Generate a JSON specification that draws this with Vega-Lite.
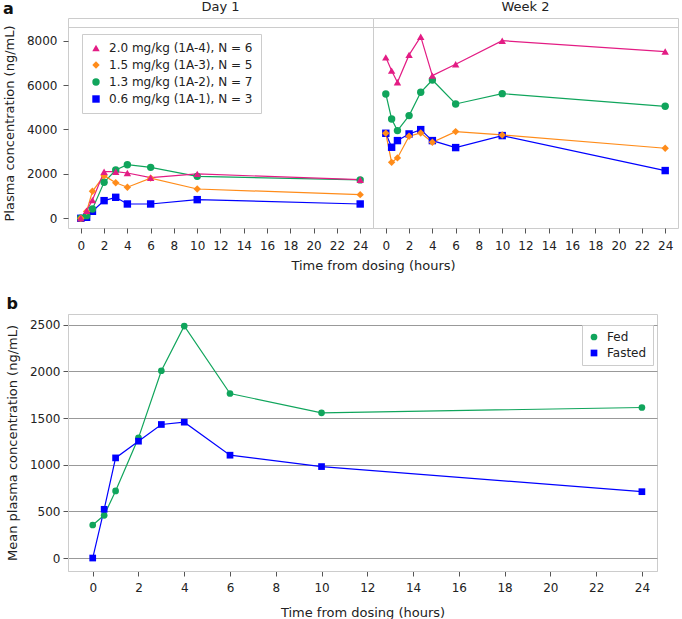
{
  "$schema": "https://vega.github.io/schema/vega-lite/v6.json",
  "padding": {"left": 2, "top": 0, "right": 0, "bottom": 0},
  "background": "white",
  "config": {
    "font": "DejaVu Sans",
    "view": {"stroke": "#cccccc"},
    "axis": {"labelFontSize": 12, "titleFontSize": 13, "titleFontWeight": "normal", "labelColor": "#222222", "titleColor": "#222222", "tickColor": "#555555", "domainColor": "#cccccc", "grid": false, "labelOverlap": false},
    "legend": {"padding": 8, "strokeColor": "#cccccc", "fillColor": "white", "labelFontSize": 12, "labelColor": "#222222", "rowPadding": 5, "labelOffset": 7, "symbolStrokeWidth": 0, "symbolSize": 55}
  },
  "datasets": {
    "a": [
      {"period": "Day 1", "dose": "0.6 mg/kg (1A-1), N = 3", "time": 0, "conc": 0},
      {"period": "Day 1", "dose": "0.6 mg/kg (1A-1), N = 3", "time": 0.5, "conc": 45},
      {"period": "Day 1", "dose": "0.6 mg/kg (1A-1), N = 3", "time": 1, "conc": 315},
      {"period": "Day 1", "dose": "0.6 mg/kg (1A-1), N = 3", "time": 2, "conc": 795},
      {"period": "Day 1", "dose": "0.6 mg/kg (1A-1), N = 3", "time": 3, "conc": 945},
      {"period": "Day 1", "dose": "0.6 mg/kg (1A-1), N = 3", "time": 4, "conc": 645},
      {"period": "Day 1", "dose": "0.6 mg/kg (1A-1), N = 3", "time": 6, "conc": 645},
      {"period": "Day 1", "dose": "0.6 mg/kg (1A-1), N = 3", "time": 10, "conc": 840},
      {"period": "Day 1", "dose": "0.6 mg/kg (1A-1), N = 3", "time": 24, "conc": 645},
      {"period": "Day 1", "dose": "1.3 mg/kg (1A-2), N = 7", "time": 0, "conc": 0},
      {"period": "Day 1", "dose": "1.3 mg/kg (1A-2), N = 7", "time": 0.5, "conc": 120},
      {"period": "Day 1", "dose": "1.3 mg/kg (1A-2), N = 7", "time": 1, "conc": 420},
      {"period": "Day 1", "dose": "1.3 mg/kg (1A-2), N = 7", "time": 2, "conc": 1620},
      {"period": "Day 1", "dose": "1.3 mg/kg (1A-2), N = 7", "time": 3, "conc": 2175},
      {"period": "Day 1", "dose": "1.3 mg/kg (1A-2), N = 7", "time": 4, "conc": 2415},
      {"period": "Day 1", "dose": "1.3 mg/kg (1A-2), N = 7", "time": 6, "conc": 2295},
      {"period": "Day 1", "dose": "1.3 mg/kg (1A-2), N = 7", "time": 10, "conc": 1890},
      {"period": "Day 1", "dose": "1.3 mg/kg (1A-2), N = 7", "time": 24, "conc": 1730},
      {"period": "Day 1", "dose": "1.5 mg/kg (1A-3), N = 5", "time": 0, "conc": 0},
      {"period": "Day 1", "dose": "1.5 mg/kg (1A-3), N = 5", "time": 0.5, "conc": 310},
      {"period": "Day 1", "dose": "1.5 mg/kg (1A-3), N = 5", "time": 1, "conc": 1215},
      {"period": "Day 1", "dose": "1.5 mg/kg (1A-3), N = 5", "time": 2, "conc": 1920},
      {"period": "Day 1", "dose": "1.5 mg/kg (1A-3), N = 5", "time": 3, "conc": 1600},
      {"period": "Day 1", "dose": "1.5 mg/kg (1A-3), N = 5", "time": 4, "conc": 1400},
      {"period": "Day 1", "dose": "1.5 mg/kg (1A-3), N = 5", "time": 6, "conc": 1810},
      {"period": "Day 1", "dose": "1.5 mg/kg (1A-3), N = 5", "time": 10, "conc": 1320},
      {"period": "Day 1", "dose": "1.5 mg/kg (1A-3), N = 5", "time": 24, "conc": 1065},
      {"period": "Day 1", "dose": "2.0 mg/kg (1A-4), N = 6", "time": 0, "conc": 0},
      {"period": "Day 1", "dose": "2.0 mg/kg (1A-4), N = 6", "time": 0.5, "conc": 340},
      {"period": "Day 1", "dose": "2.0 mg/kg (1A-4), N = 6", "time": 1, "conc": 820},
      {"period": "Day 1", "dose": "2.0 mg/kg (1A-4), N = 6", "time": 2, "conc": 2100},
      {"period": "Day 1", "dose": "2.0 mg/kg (1A-4), N = 6", "time": 3, "conc": 2100},
      {"period": "Day 1", "dose": "2.0 mg/kg (1A-4), N = 6", "time": 4, "conc": 2040},
      {"period": "Day 1", "dose": "2.0 mg/kg (1A-4), N = 6", "time": 6, "conc": 1830},
      {"period": "Day 1", "dose": "2.0 mg/kg (1A-4), N = 6", "time": 10, "conc": 2000},
      {"period": "Day 1", "dose": "2.0 mg/kg (1A-4), N = 6", "time": 24, "conc": 1740},
      {"period": "Week 2", "dose": "0.6 mg/kg (1A-1), N = 3", "time": 0, "conc": 3830},
      {"period": "Week 2", "dose": "0.6 mg/kg (1A-1), N = 3", "time": 0.5, "conc": 3200},
      {"period": "Week 2", "dose": "0.6 mg/kg (1A-1), N = 3", "time": 1, "conc": 3500},
      {"period": "Week 2", "dose": "0.6 mg/kg (1A-1), N = 3", "time": 2, "conc": 3800},
      {"period": "Week 2", "dose": "0.6 mg/kg (1A-1), N = 3", "time": 3, "conc": 3995},
      {"period": "Week 2", "dose": "0.6 mg/kg (1A-1), N = 3", "time": 4, "conc": 3500},
      {"period": "Week 2", "dose": "0.6 mg/kg (1A-1), N = 3", "time": 6, "conc": 3185},
      {"period": "Week 2", "dose": "0.6 mg/kg (1A-1), N = 3", "time": 10, "conc": 3725},
      {"period": "Week 2", "dose": "0.6 mg/kg (1A-1), N = 3", "time": 24, "conc": 2150},
      {"period": "Week 2", "dose": "1.3 mg/kg (1A-2), N = 7", "time": 0, "conc": 5600},
      {"period": "Week 2", "dose": "1.3 mg/kg (1A-2), N = 7", "time": 0.5, "conc": 4475},
      {"period": "Week 2", "dose": "1.3 mg/kg (1A-2), N = 7", "time": 1, "conc": 3950},
      {"period": "Week 2", "dose": "1.3 mg/kg (1A-2), N = 7", "time": 2, "conc": 4625},
      {"period": "Week 2", "dose": "1.3 mg/kg (1A-2), N = 7", "time": 3, "conc": 5675},
      {"period": "Week 2", "dose": "1.3 mg/kg (1A-2), N = 7", "time": 4, "conc": 6230},
      {"period": "Week 2", "dose": "1.3 mg/kg (1A-2), N = 7", "time": 6, "conc": 5150},
      {"period": "Week 2", "dose": "1.3 mg/kg (1A-2), N = 7", "time": 10, "conc": 5615},
      {"period": "Week 2", "dose": "1.3 mg/kg (1A-2), N = 7", "time": 24, "conc": 5045},
      {"period": "Week 2", "dose": "1.5 mg/kg (1A-3), N = 5", "time": 0, "conc": 3830},
      {"period": "Week 2", "dose": "1.5 mg/kg (1A-3), N = 5", "time": 0.5, "conc": 2520},
      {"period": "Week 2", "dose": "1.5 mg/kg (1A-3), N = 5", "time": 1, "conc": 2720},
      {"period": "Week 2", "dose": "1.5 mg/kg (1A-3), N = 5", "time": 2, "conc": 3695},
      {"period": "Week 2", "dose": "1.5 mg/kg (1A-3), N = 5", "time": 3, "conc": 3845},
      {"period": "Week 2", "dose": "1.5 mg/kg (1A-3), N = 5", "time": 4, "conc": 3425},
      {"period": "Week 2", "dose": "1.5 mg/kg (1A-3), N = 5", "time": 6, "conc": 3905},
      {"period": "Week 2", "dose": "1.5 mg/kg (1A-3), N = 5", "time": 10, "conc": 3755},
      {"period": "Week 2", "dose": "1.5 mg/kg (1A-3), N = 5", "time": 24, "conc": 3155},
      {"period": "Week 2", "dose": "2.0 mg/kg (1A-4), N = 6", "time": 0, "conc": 7250},
      {"period": "Week 2", "dose": "2.0 mg/kg (1A-4), N = 6", "time": 0.5, "conc": 6650},
      {"period": "Week 2", "dose": "2.0 mg/kg (1A-4), N = 6", "time": 1, "conc": 6125},
      {"period": "Week 2", "dose": "2.0 mg/kg (1A-4), N = 6", "time": 2, "conc": 7360},
      {"period": "Week 2", "dose": "2.0 mg/kg (1A-4), N = 6", "time": 3, "conc": 8180},
      {"period": "Week 2", "dose": "2.0 mg/kg (1A-4), N = 6", "time": 4, "conc": 6425},
      {"period": "Week 2", "dose": "2.0 mg/kg (1A-4), N = 6", "time": 6, "conc": 6935},
      {"period": "Week 2", "dose": "2.0 mg/kg (1A-4), N = 6", "time": 10, "conc": 8000},
      {"period": "Week 2", "dose": "2.0 mg/kg (1A-4), N = 6", "time": 24, "conc": 7510}
    ],
    "b": [
      {"group": "Fed", "time": 0, "conc": 354},
      {"group": "Fed", "time": 0.5, "conc": 458},
      {"group": "Fed", "time": 1, "conc": 719},
      {"group": "Fed", "time": 2, "conc": 1288},
      {"group": "Fed", "time": 3, "conc": 2007},
      {"group": "Fed", "time": 4, "conc": 2486},
      {"group": "Fed", "time": 6, "conc": 1763},
      {"group": "Fed", "time": 10, "conc": 1556},
      {"group": "Fed", "time": 24, "conc": 1613},
      {"group": "Fasted", "time": 0, "conc": 0},
      {"group": "Fasted", "time": 0.5, "conc": 522},
      {"group": "Fasted", "time": 1, "conc": 1073},
      {"group": "Fasted", "time": 2, "conc": 1252},
      {"group": "Fasted", "time": 3, "conc": 1431},
      {"group": "Fasted", "time": 4, "conc": 1456},
      {"group": "Fasted", "time": 6, "conc": 1102},
      {"group": "Fasted", "time": 10, "conc": 980},
      {"group": "Fasted", "time": 24, "conc": 711}
    ]
  },
  "title": {"text": "a", "anchor": "start", "fontSize": 16, "fontWeight": "bold", "color": "#111111", "offset": -16},
  "spacing": 22,
  "resolve": {
    "scale": {"x": "independent", "y": "independent", "color": "independent", "shape": "independent"},
    "legend": {"color": "independent", "shape": "independent"}
  },
  "vconcat": [
    {
      "spacing": 0,
      "bounds": "flush",
      "resolve": {"legend": {"color": "independent", "shape": "independent"}},
      "hconcat": [
        {
          "width": 305,
          "height": 210,
          "title": {"text": "Day 1", "fontSize": 13, "fontWeight": "normal", "color": "#222222", "offset": 4},
          "data": {"name": "a"},
          "transform": [{"filter": "datum.period === 'Day 1'"}],
          "layer": [
            {
              "mark": {"type": "line", "strokeWidth": 1.2},
              "encoding": {
                "x": {"field": "time", "type": "quantitative", "scale": {"domain": [-1.1, 25.1], "nice": false, "zero": false},
                      "axis": {"orient": "bottom", "values": [0,2,4,6,8,10,12,14,16,18,20,22,24], "format": "d", "domain": false, "tickSize": 5, "labelPadding": 7, "title": "Time from dosing (hours)", "titleX": 305, "titleAlign": "center", "titlePadding": 8}},
                "y": {"field": "conc", "type": "quantitative", "scale": {"domain": [-437, 9022], "nice": false, "zero": false},
                      "axis": {"values": [0,1000,2000,3000,4000,5000,6000,7000,8000], "format": "d", "domain": false, "tickSize": 5, "labelPadding": 6, "title": "Plasma concentration (ng/mL)", "titlePadding": 10}},
                "color": {"field": "dose", "type": "nominal",
                          "scale": {"domain": ["2.0 mg/kg (1A-4), N = 6", "1.5 mg/kg (1A-3), N = 5", "1.3 mg/kg (1A-2), N = 7", "0.6 mg/kg (1A-1), N = 3"], "range": ["#e31c84", "#ff8c1a", "#10a55c", "#0000ff"]}}
              }
            },
            {
              "mark": {"type": "point", "filled": true, "opacity": 1, "size": 55},
              "encoding": {
                "x": {"field": "time", "type": "quantitative",
                      "axis": {"orient": "top", "offset": -9, "labels": false, "ticks": false, "domain": true, "domainColor": "#cccccc", "title": null}},
                "y": {"field": "conc", "type": "quantitative"},
                "color": {"field": "dose", "type": "nominal",
                          "legend": {"title": null, "orient": "none", "legendX": 14, "legendY": 16, "symbolType": "circle"}},
                "shape": {"field": "dose", "type": "nominal",
                          "scale": {"domain": ["2.0 mg/kg (1A-4), N = 6", "1.5 mg/kg (1A-3), N = 5", "1.3 mg/kg (1A-2), N = 7", "0.6 mg/kg (1A-1), N = 3"], "range": ["triangle-up", "diamond", "circle", "square"]},
                          "legend": {"title": null, "orient": "none", "legendX": 14, "legendY": 16}}
              }
            }
          ]
        },
        {
          "width": 305,
          "height": 210,
          "title": {"text": "Week 2", "fontSize": 13, "fontWeight": "normal", "color": "#222222", "offset": 4},
          "data": {"name": "a"},
          "transform": [{"filter": "datum.period === 'Week 2'"}],
          "layer": [
            {
              "mark": {"type": "line", "strokeWidth": 1.2},
              "encoding": {
                "x": {"field": "time", "type": "quantitative", "scale": {"domain": [-1.1, 25.1], "nice": false, "zero": false},
                      "axis": {"orient": "bottom", "values": [0,2,4,6,8,10,12,14,16,18,20,22,24], "format": "d", "domain": false, "tickSize": 5, "labelPadding": 7, "title": null}},
                "y": {"field": "conc", "type": "quantitative", "scale": {"domain": [-437, 9022], "nice": false, "zero": false}, "axis": null},
                "color": {"field": "dose", "type": "nominal", "legend": null,
                          "scale": {"domain": ["2.0 mg/kg (1A-4), N = 6", "1.5 mg/kg (1A-3), N = 5", "1.3 mg/kg (1A-2), N = 7", "0.6 mg/kg (1A-1), N = 3"], "range": ["#e31c84", "#ff8c1a", "#10a55c", "#0000ff"]}}
              }
            },
            {
              "mark": {"type": "point", "filled": true, "opacity": 1, "size": 55},
              "encoding": {
                "x": {"field": "time", "type": "quantitative",
                      "axis": {"orient": "top", "offset": -9, "labels": false, "ticks": false, "domain": true, "domainColor": "#cccccc", "title": null}},
                "y": {"field": "conc", "type": "quantitative", "axis": null},
                "color": {"field": "dose", "type": "nominal", "legend": null},
                "shape": {"field": "dose", "type": "nominal", "legend": null,
                          "scale": {"domain": ["2.0 mg/kg (1A-4), N = 6", "1.5 mg/kg (1A-3), N = 5", "1.3 mg/kg (1A-2), N = 7", "0.6 mg/kg (1A-1), N = 3"], "range": ["triangle-up", "diamond", "circle", "square"]}}
              }
            }
          ]
        }
      ]
    },
    {
      "width": 589,
      "height": 257,
      "title": {"text": "b", "anchor": "start", "frame": "bounds", "fontSize": 16, "fontWeight": "bold", "color": "#111111", "offset": 2},
      "data": {"name": "b"},
      "layer": [
        {
          "mark": {"type": "line", "strokeWidth": 1.2},
          "encoding": {
            "x": {"field": "time", "type": "quantitative", "scale": {"domain": [-1.08, 24.66], "nice": false, "zero": false},
                  "axis": {"values": [0,2,4,6,8,10,12,14,16,18,20,22,24], "format": "d", "domain": true, "tickSize": 5, "labelPadding": 6, "title": "Time from dosing (hours)", "titlePadding": 13}},
            "y": {"field": "conc", "type": "quantitative", "scale": {"domain": [-139, 2615], "nice": false, "zero": false},
                  "axis": {"values": [0,500,1000,1500,2000,2500], "format": "d", "domain": true, "grid": true, "gridColor": "#999999", "tickSize": 5, "labelPadding": 3, "title": "Mean plasma concentration (ng/mL)", "titlePadding": 10}},
            "color": {"field": "group", "type": "nominal", "scale": {"domain": ["Fed", "Fasted"], "range": ["#10a55c", "#0000ff"]}}
          }
        },
        {
          "mark": {"type": "point", "filled": true, "opacity": 1, "size": 45},
          "encoding": {
            "x": {"field": "time", "type": "quantitative"},
            "y": {"field": "conc", "type": "quantitative"},
            "color": {"field": "group", "type": "nominal",
                      "legend": {"title": null, "orient": "none", "legendX": 514, "legendY": 11, "symbolSize": 45, "symbolType": "circle", "padding": 6, "rowPadding": 4}},
            "shape": {"field": "group", "type": "nominal", "scale": {"domain": ["Fed", "Fasted"], "range": ["circle", "square"]},
                      "legend": {"title": null, "orient": "none", "legendX": 514, "legendY": 11, "symbolSize": 45, "padding": 6, "rowPadding": 4}}
          }
        }
      ]
    }
  ]
}
